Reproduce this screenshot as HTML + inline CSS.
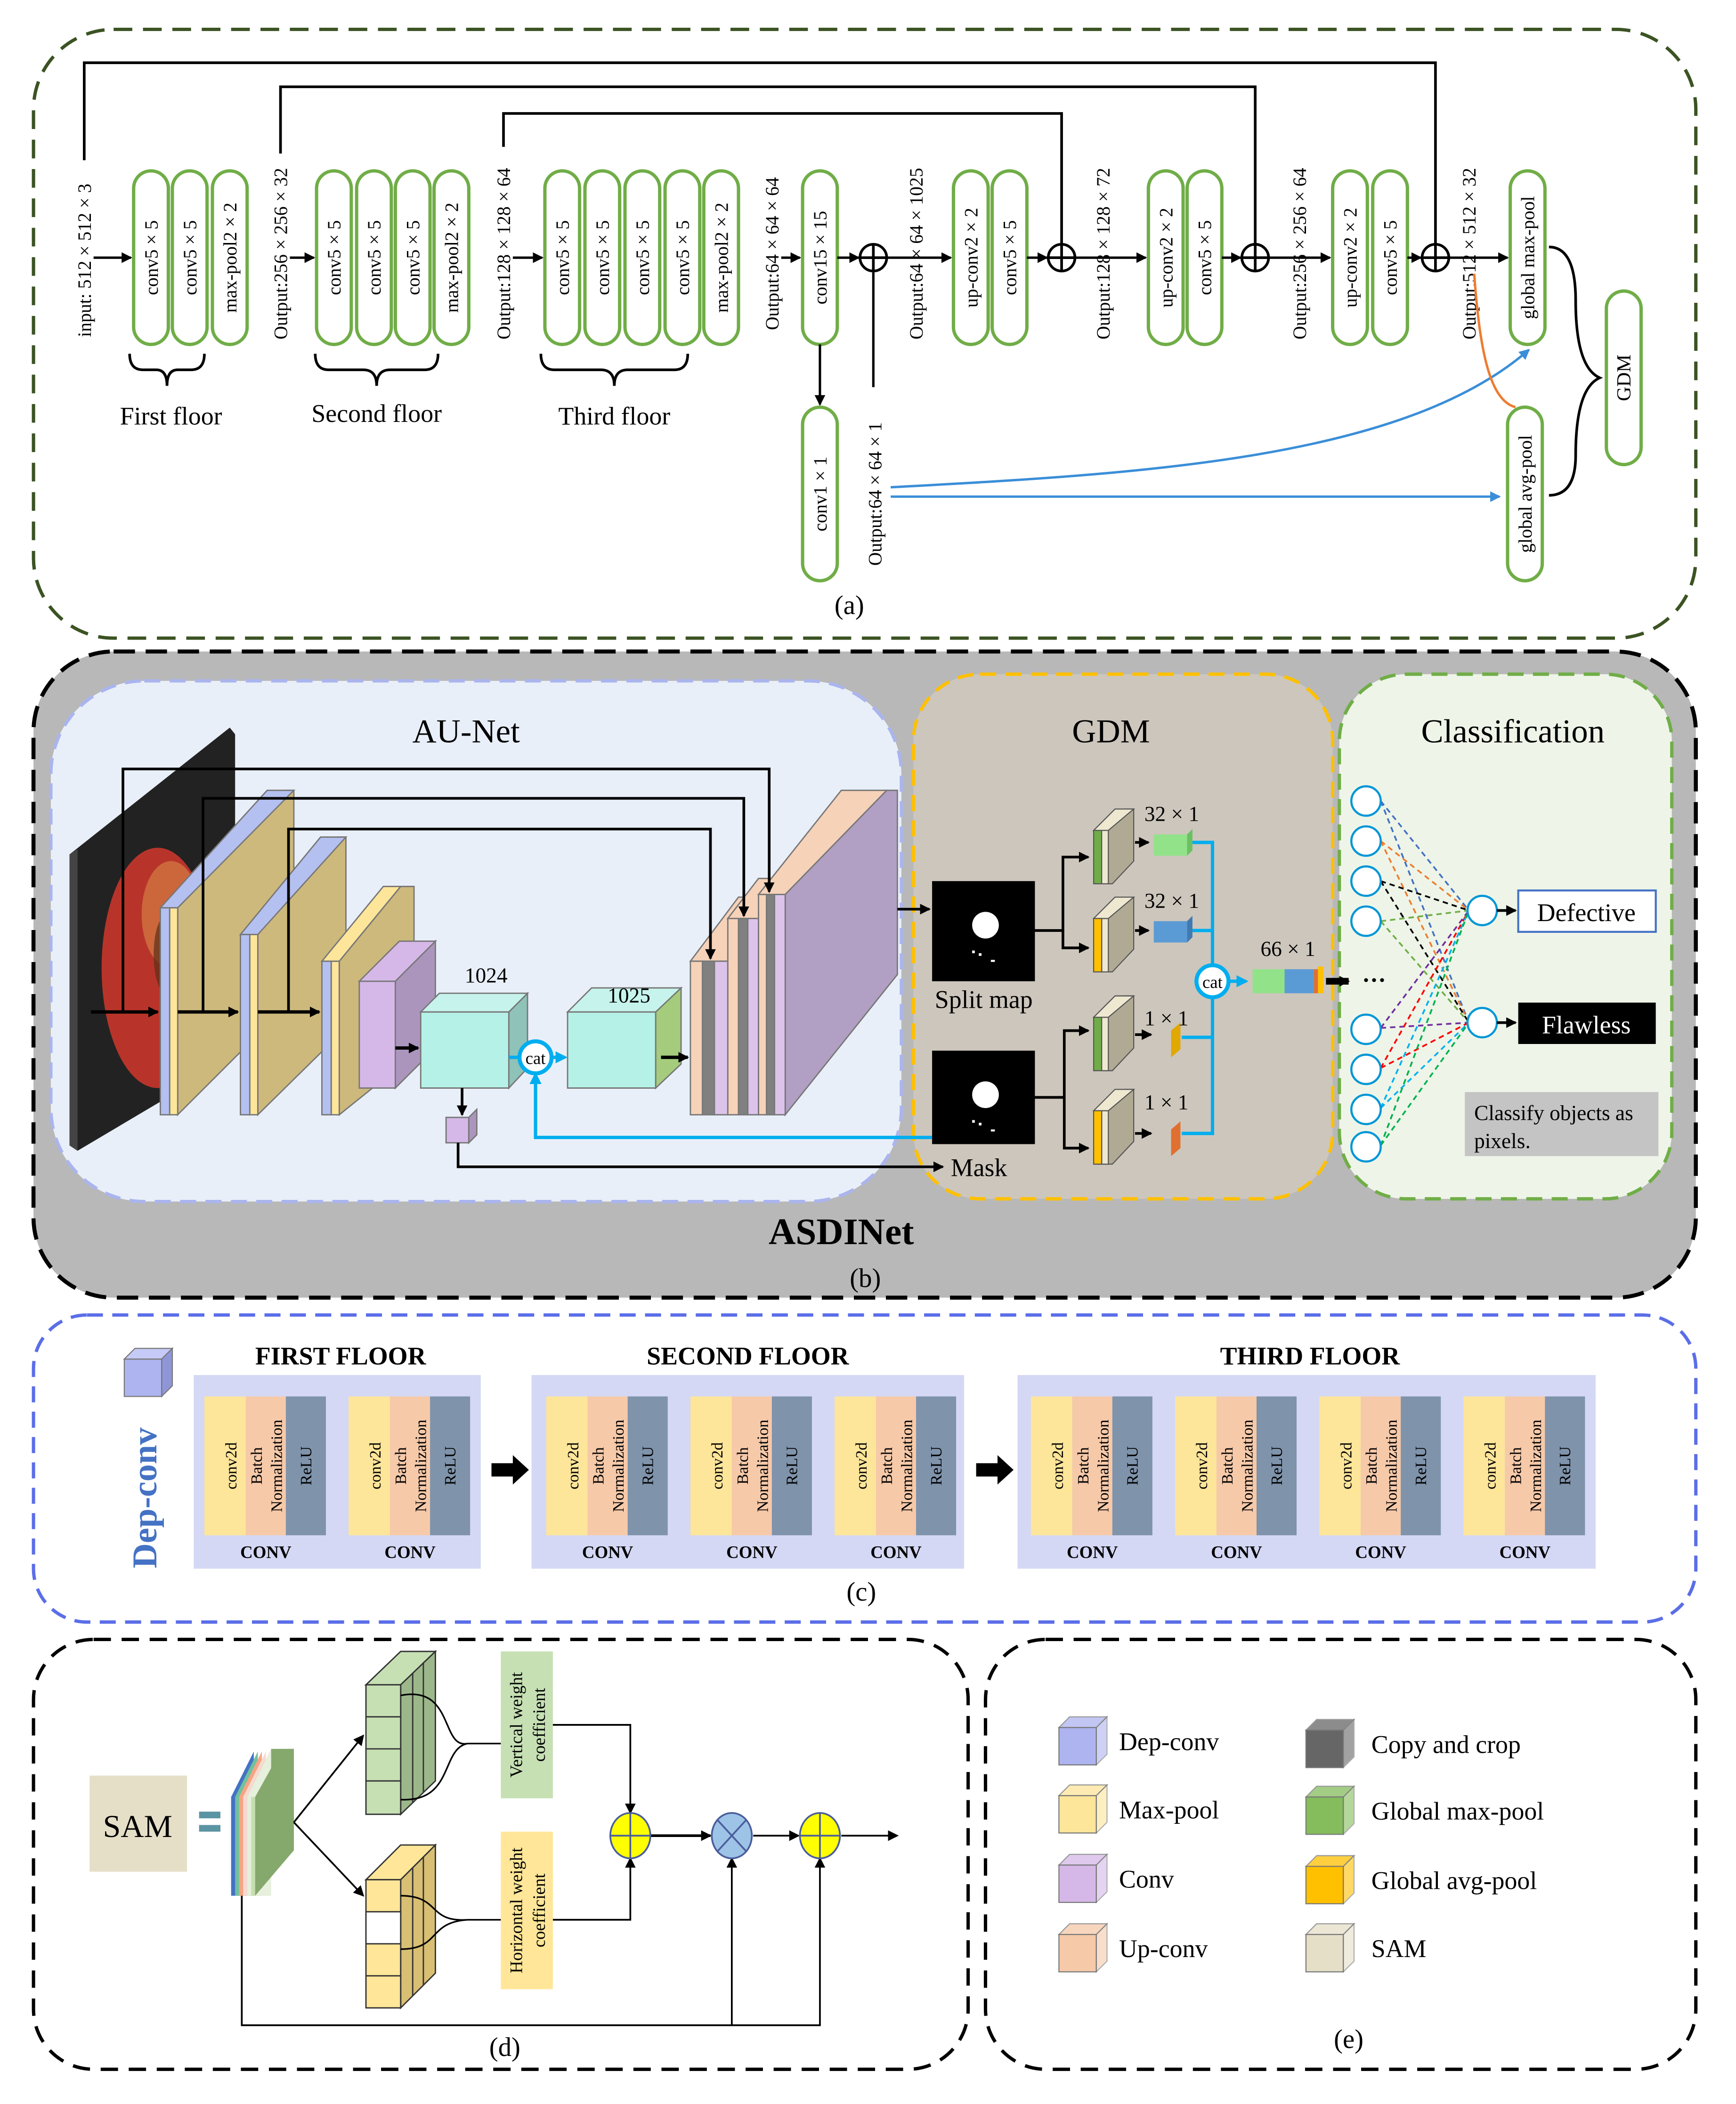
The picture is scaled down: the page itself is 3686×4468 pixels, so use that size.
<!DOCTYPE html>
<html><head><meta charset="utf-8"><style>
html,body{margin:0;padding:0;background:#fff}
svg{display:block}
text{font-family:"Liberation Serif",serif}
</style></head><body>
<svg width="3686" height="4468" viewBox="0 0 1300 1576" xmlns="http://www.w3.org/2000/svg">
<defs>
<marker id="ah" markerWidth="8" markerHeight="8" refX="7" refY="4" orient="auto" markerUnits="userSpaceOnUse"><path d="M0,0 L8,4 L0,8 z" fill="#000"/></marker>
<marker id="ab" markerWidth="8" markerHeight="8" refX="7" refY="4" orient="auto" markerUnits="userSpaceOnUse"><path d="M0,0 L8,4 L0,8 z" fill="#3a8ed8"/></marker>
<marker id="ac" markerWidth="9" markerHeight="9" refX="7" refY="4.5" orient="auto" markerUnits="userSpaceOnUse"><path d="M0,0 L9,4.5 L0,9 z" fill="#00aeef"/></marker>
<g id="pill"><rect x="0" y="0" width="26" height="130" rx="13" fill="#fff" stroke="#70ad47" stroke-width="2.5"/></g>
<g id="oplus"><circle r="10" fill="#fff" stroke="#000" stroke-width="2"/><path d="M-10,0H10M0,-10V10" stroke="#000" stroke-width="2"/></g>
<g id="cb"><rect x="0" y="0" width="28" height="28"/><polygon points="0,0 8,-8 36,-8 28,0" opacity="0.75"/><polygon points="28,0 36,-8 36,20 28,28" opacity="0.6"/></g>
<clipPath id="slabclip"><polygon points="58,640 172,545 176,550 176,792 58,862"/></clipPath>
</defs>

<!-- ============ PANEL A ============ -->
<rect x="25" y="22" width="1245" height="456" rx="60" fill="#fff" stroke="#3b5323" stroke-width="2.5" stroke-dasharray="14,8"/>
<g font-size="14" text-anchor="middle">
<path d="M63,120 V47 H1075 V183" fill="none" stroke="#000" stroke-width="2"/>
<path d="M210,115 V65 H940 V183" fill="none" stroke="#000" stroke-width="2"/>
<path d="M377,110 V85 H795 V183" fill="none" stroke="#000" stroke-width="2"/>
<use href="#pill" x="100" y="128"/><use href="#pill" x="129" y="128"/><use href="#pill" x="159" y="128"/>
<use href="#pill" x="237" y="128"/><use href="#pill" x="267" y="128"/><use href="#pill" x="296" y="128"/><use href="#pill" x="325" y="128"/>
<use href="#pill" x="408" y="128"/><use href="#pill" x="438" y="128"/><use href="#pill" x="468" y="128"/><use href="#pill" x="498" y="128"/><use href="#pill" x="527" y="128"/>
<use href="#pill" x="601" y="128"/>
<use href="#pill" x="714" y="128"/><use href="#pill" x="743" y="128"/>
<use href="#pill" x="860" y="128"/><use href="#pill" x="889" y="128"/>
<use href="#pill" x="998" y="128"/><use href="#pill" x="1028" y="128"/>
<use href="#pill" x="1131" y="128"/>
<use href="#pill" x="1129" y="305"/>
<use href="#pill" x="601" y="305"/>
<use href="#pill" x="1203" y="218"/>
<g transform="rotate(-90)">
<text x="-193" y="118">conv5 × 5</text><text x="-193" y="147">conv5 × 5</text><text x="-193" y="177">max-pool2 × 2</text>
<text x="-193" y="255">conv5 × 5</text><text x="-193" y="285">conv5 × 5</text><text x="-193" y="314">conv5 × 5</text><text x="-193" y="343">max-pool2 × 2</text>
<text x="-193" y="426">conv5 × 5</text><text x="-193" y="456">conv5 × 5</text><text x="-193" y="486">conv5 × 5</text><text x="-193" y="516">conv5 × 5</text><text x="-193" y="545">max-pool2 × 2</text>
<text x="-193" y="619">conv15 × 15</text>
<text x="-193" y="732">up-conv2 × 2</text><text x="-193" y="761">conv5 × 5</text>
<text x="-193" y="878">up-conv2 × 2</text><text x="-193" y="907">conv5 × 5</text>
<text x="-193" y="1016">up-conv2 × 2</text><text x="-193" y="1046">conv5 × 5</text>
<text x="-193" y="1149">global max-pool</text>
<text x="-370" y="1147">global avg-pool</text>
<text x="-370" y="619">conv1 × 1</text>
<text x="-283" y="1221" font-size="15">GDM</text>
<text x="-195" y="68">input: 512 × 512 × 3</text>
<text x="-190" y="215">Output:256 × 256 × 32</text>
<text x="-190" y="382">Output:128 × 128 × 64</text>
<text x="-190" y="583">Output:64 × 64 × 64</text>
<text x="-190" y="691">Output:64 × 64 × 1025</text>
<text x="-190" y="831">Output:128 × 128 × 72</text>
<text x="-190" y="978">Output:256 × 256 × 64</text>
<text x="-190" y="1105">Output:512 × 512 × 32</text>
<text x="-370" y="660">Output:64 × 64 × 1</text>
</g>
<g stroke="#000" stroke-width="1.8" marker-end="url(#ah)">
<line x1="70" y1="193" x2="98" y2="193"/><line x1="217" y1="193" x2="235" y2="193"/>
<line x1="384" y1="193" x2="406" y2="193"/><line x1="585" y1="193" x2="599" y2="193"/>
<line x1="627" y1="193" x2="643" y2="193"/><line x1="664" y1="193" x2="712" y2="193"/>
<line x1="769" y1="193" x2="784" y2="193"/><line x1="805" y1="193" x2="858" y2="193"/>
<line x1="915" y1="193" x2="929" y2="193"/><line x1="950" y1="193" x2="996" y2="193"/>
<line x1="1054" y1="193" x2="1064" y2="193"/><line x1="1085" y1="193" x2="1129" y2="193"/>
<line x1="614" y1="258" x2="614" y2="303"/>
</g>
<line x1="654" y1="290" x2="654" y2="204" stroke="#000" stroke-width="1.8"/>
<use href="#oplus" x="654" y="193"/><use href="#oplus" x="795" y="193"/><use href="#oplus" x="940" y="193"/><use href="#oplus" x="1075" y="193"/>
<g fill="none" stroke="#000" stroke-width="2">
<path d="M97,265 q0,12 10,12 h10 q8,0 8,12 q0,-12 8,-12 h10 q10,0 10,-12"/>
<path d="M236,265 q0,12 10,12 h26 q10,0 10,12 q0,-12 10,-12 h26 q10,0 10,-12"/>
<path d="M405,265 q0,12 10,12 h35 q10,0 10,12 q0,-12 10,-12 h35 q10,0 10,-12"/>
<path d="M1160,185 q20,0 20,40 q0,50 18,58 q-18,8 -18,58 q0,30 -20,30"/>
</g>
<text x="128" y="318" font-size="19">First floor</text>
<text x="282" y="316" font-size="19">Second floor</text>
<text x="460" y="318" font-size="19">Third floor</text>
<path d="M667,365 C850,355 1050,345 1145,262" fill="none" stroke="#3a8ed8" stroke-width="1.8" marker-end="url(#ab)"/>
<line x1="667" y1="372" x2="1123" y2="372" stroke="#3a8ed8" stroke-width="1.8" marker-end="url(#ab)"/>
<path d="M1104,205 C1108,260 1115,300 1135,305" fill="none" stroke="#ed7d31" stroke-width="1.8"/>
<text x="636" y="460" font-size="20">(a)</text>
</g>

<!-- ============ PANEL B ============ -->
<rect x="25" y="488" width="1245" height="484" rx="60" fill="#b8b8b8" stroke="#000" stroke-width="3" stroke-dasharray="16,8"/>
<rect x="38" y="510" width="637" height="390" rx="70" fill="#e9eff9" stroke="#aab5ee" stroke-width="2.5" stroke-dasharray="12,7"/>
<rect x="684" y="505" width="314" height="393" rx="50" fill="#cdc6bc" stroke="#ffc000" stroke-width="2.5" stroke-dasharray="12,7"/>
<rect x="1003" y="505" width="249" height="393" rx="50" fill="#eef5e8" stroke="#70ad47" stroke-width="2.5" stroke-dasharray="12,7"/>
<text x="349" y="556" font-size="25" text-anchor="middle">AU-Net</text>
<text x="832" y="556" font-size="25" text-anchor="middle">GDM</text>
<text x="1133" y="556" font-size="25" text-anchor="middle">Classification</text>
<text x="630" y="932" font-size="28" font-weight="bold" text-anchor="middle">ASDINet</text>
<text x="648" y="964" font-size="20" text-anchor="middle">(b)</text>
<!-- AU-Net -->
<polygon points="52,640 172,545 176,550 176,792 58,862 52,858" fill="#222"/>
<polygon points="52,640 58,636 58,862 52,858" fill="#444"/>
<g clip-path="url(#slabclip)">
<ellipse cx="118" cy="725" rx="42" ry="90" fill="#b8342a"/>
<ellipse cx="128" cy="685" rx="22" ry="40" fill="#d98a4a" opacity="0.6"/>
<ellipse cx="125" cy="715" rx="10" ry="30" fill="#5a3018" opacity="0.7"/>
</g>
<g stroke="#777" stroke-width="1">
<polygon points="133,680 213,592 220,592 220,748 133,835" fill="#cdb97c"/>
<polygon points="120,680 200,592 220,592 133,680" fill="#b4c0f0"/>
<rect x="120" y="680" width="7" height="155" fill="#b4c0f0"/><rect x="127" y="680" width="6" height="155" fill="#fde59a"/>
<polygon points="193,700 253,627 259,627 259,770 193,835" fill="#cdb97c"/>
<polygon points="180,700 240,627 259,627 193,700" fill="#b4c0f0"/>
<rect x="180" y="700" width="7" height="135" fill="#b4c0f0"/><rect x="187" y="700" width="6" height="135" fill="#fde59a"/>
<polygon points="254,720 300,664 310,664 310,790 254,835" fill="#cdb97c"/>
<rect x="241" y="720" width="7" height="115" fill="#b4c0f0"/><rect x="248" y="720" width="6" height="115" fill="#fde59a"/>
<polygon points="241,720 287,664 300,664 254,720" fill="#fde59a"/>
<rect x="269" y="735" width="27" height="80" fill="#d5b8e8"/>
<polygon points="296,735 326,705 326,785 296,815" fill="#ab95bd"/>
<polygon points="269,735 299,705 326,705 296,735" fill="#d5b8e8"/>
<rect x="315" y="758" width="66" height="57" fill="#b6f1e8"/>
<polygon points="381,758 395,744 395,800 381,815" fill="#8fc2b8"/>
<polygon points="315,758 329,744 395,744 381,758" fill="#c6f4ed"/>
<rect x="425" y="758" width="66" height="57" fill="#b6f1e8"/>
<polygon points="491,758 510,740 510,797 491,815" fill="#a4cc7c"/>
<polygon points="425,758 443,740 510,740 491,758" fill="#c6f4ed"/>
<polygon points="517,720 553,672 580,672 545,720" fill="#f6d2b9"/>
<polygon points="545,688 568,658 590,658 568,688" fill="#f6d2b9"/>
<polygon points="568,670 630,592 664,592 588,670" fill="#f6d2b9"/>
<polygon points="588,670 664,592 672,592 672,730 588,835" fill="#b29fc4"/>
<rect x="517" y="720" width="9" height="115" fill="#f6d2b9"/><rect x="526" y="720" width="9" height="115" fill="#808080"/><rect x="535" y="720" width="10" height="115" fill="#dcc3ea"/>
<rect x="545" y="688" width="8" height="147" fill="#f6d2b9"/><rect x="553" y="688" width="7" height="147" fill="#808080"/><rect x="560" y="688" width="8" height="147" fill="#dcc3ea"/>
<rect x="568" y="670" width="6" height="165" fill="#f6d2b9"/><rect x="574" y="670" width="6" height="165" fill="#808080"/><rect x="580" y="670" width="8" height="165" fill="#dcc3ea"/>
<rect x="334" y="837" width="17" height="19" fill="#d5b8e8"/>
<polygon points="351,837 357,831 357,850 351,856" fill="#ab95bd"/>
</g>
<g fill="none" stroke="#000" stroke-width="2">
<path d="M92,758 V576 H576 V668" marker-end="url(#ah)"/>
<path d="M152,758 V598 H557 V686" marker-end="url(#ah)"/>
<path d="M216,758 V621 H532 V718" marker-end="url(#ah)"/>
<line x1="68" y1="758" x2="118" y2="758" stroke-width="2.5" marker-end="url(#ah)"/>
<line x1="133" y1="758" x2="178" y2="758" stroke-width="2.5" marker-end="url(#ah)"/>
<line x1="193" y1="758" x2="239" y2="758" stroke-width="2.5" marker-end="url(#ah)"/>
<line x1="296" y1="785" x2="313" y2="785" stroke-width="2.5" marker-end="url(#ah)"/>
<line x1="495" y1="792" x2="515" y2="792" stroke-width="2.5" marker-end="url(#ah)"/>
<line x1="346" y1="815" x2="346" y2="835" marker-end="url(#ah)"/>
<path d="M343,856 V874 H706" marker-end="url(#ah)"/>
<line x1="672" y1="681" x2="696" y2="681" marker-end="url(#ah)"/>
</g>
<path d="M700,852 H401 V805" fill="none" stroke="#00aeef" stroke-width="2.5" marker-end="url(#ac)"/>
<line x1="381" y1="792" x2="390" y2="792" stroke="#00aeef" stroke-width="2.5"/>
<line x1="413" y1="792" x2="423" y2="792" stroke="#00aeef" stroke-width="2.5" marker-end="url(#ac)"/>
<circle cx="401" cy="792" r="12" fill="#fff" stroke="#00aeef" stroke-width="3"/>
<text x="401" y="797" font-size="13" text-anchor="middle">cat</text>
<text x="364" y="736" font-size="16" text-anchor="middle">1024</text>
<text x="471" y="751" font-size="16" text-anchor="middle">1025</text>
<!-- GDM -->
<rect x="698" y="660" width="77" height="75" fill="#000"/><circle cx="738" cy="693" r="10" fill="#fff"/>
<rect x="698" y="787" width="77" height="70" fill="#000"/><circle cx="738" cy="820" r="10" fill="#fff"/>
<g fill="#fff"><rect x="728" y="712" width="2" height="2"/><rect x="733" y="714" width="2" height="2"/><rect x="742" y="719" width="3" height="1.5"/>
<rect x="728" y="839" width="2" height="2"/><rect x="733" y="841" width="2" height="2"/><rect x="742" y="846" width="3" height="1.5"/></g>
<text x="700" y="755" font-size="19">Split map</text>
<text x="712" y="881" font-size="19">Mask</text>
<g fill="none" stroke="#000" stroke-width="2">
<path d="M775,697 H796 V642 H815" marker-end="url(#ah)"/><path d="M796,697 V710 H815" marker-end="url(#ah)"/>
<path d="M775,822 H797 V772 H815" marker-end="url(#ah)"/><path d="M797,822 V860 H815" marker-end="url(#ah)"/>
<line x1="850" y1="631" x2="860" y2="631" marker-end="url(#ah)"/><line x1="850" y1="697" x2="860" y2="697" marker-end="url(#ah)"/>
<line x1="850" y1="775" x2="862" y2="775" marker-end="url(#ah)"/><line x1="850" y1="849" x2="862" y2="849" marker-end="url(#ah)"/>
</g>
<g stroke="#555" stroke-width="0.8">
<g id="gs"><polygon points="826,622 842,606 849,606 849,645 833,662 826,662" fill="#b0aa94"/><rect x="819" y="622" width="6" height="40" fill="#70ad47"/><rect x="825" y="622" width="5" height="40" fill="#eee8d0"/><polygon points="819,622 835,606 849,606 830,622" fill="#eee8d0"/></g>
<use href="#gs" y="66"/>
<use href="#gs" y="140"/>
<use href="#gs" y="210"/>
<rect x="819" y="688" width="6" height="40" fill="#ffc000"/>
<rect x="819" y="832" width="6" height="40" fill="#ffc000"/>
</g>
<rect x="864" y="625" width="25" height="16" fill="#92e28a"/><polygon points="889,625 893,621 893,637 889,641" fill="#6cc064"/>
<rect x="864" y="690" width="25" height="16" fill="#5b9bd5"/><polygon points="889,690 893,686 893,702 889,706" fill="#417ab0"/>
<polygon points="877,772 884,766 884,786 877,792" fill="#e0a800"/>
<polygon points="877,846 884,840 884,860 877,866" fill="#e07030"/>
<g font-size="16"><text x="857" y="615">32 × 1</text><text x="857" y="680">32 × 1</text><text x="857" y="768">1 × 1</text><text x="857" y="831">1 × 1</text><text x="944" y="716">66 × 1</text></g>
<path d="M893,631 H908 V849 H885 M893,697 H908 M885,777 H908" fill="none" stroke="#00aeef" stroke-width="2.5"/>
<line x1="920" y1="735" x2="933" y2="735" stroke="#00aeef" stroke-width="2.5" marker-end="url(#ac)"/>
<circle cx="908" cy="735" r="12" fill="#fff" stroke="#00aeef" stroke-width="3"/>
<text x="908" y="740" font-size="13" text-anchor="middle">cat</text>
<rect x="938" y="726" width="24" height="18" fill="#92e28a"/><rect x="962" y="726" width="22" height="18" fill="#5b9bd5"/><rect x="984" y="726" width="3" height="18" fill="#e07030"/><rect x="987" y="724" width="4" height="20" fill="#ffc000"/>
<line x1="993" y1="735" x2="1010" y2="735" stroke="#000" stroke-width="5" marker-end="url(#ah)"/>
<text x="1020" y="740" font-size="18" font-weight="bold">···</text>
<!-- Classification -->
<g stroke-width="1.3" stroke-dasharray="4,3" fill="none">
<path d="M1034,600 L1100,682 M1034,600 L1100,766" stroke="#4472c4"/>
<path d="M1034,630 L1100,682 M1034,630 L1100,766" stroke="#ed7d31"/>
<path d="M1034,660 L1100,682 M1034,660 L1100,766" stroke="#000"/>
<path d="M1034,690 L1100,682 M1034,690 L1100,766" stroke="#70ad47"/>
<path d="M1034,770 L1100,682 M1034,770 L1100,766" stroke="#7030a0"/>
<path d="M1034,800 L1100,682 M1034,800 L1100,766" stroke="#ff0000"/>
<path d="M1034,830 L1100,682 M1034,830 L1100,766" stroke="#00b0f0"/>
<path d="M1034,858 L1100,682 M1034,858 L1100,766" stroke="#00b050"/>
</g>
<g fill="#fff" stroke="#0096d6" stroke-width="1.6">
<circle cx="1023" cy="600" r="11"/><circle cx="1023" cy="630" r="11"/><circle cx="1023" cy="660" r="11"/><circle cx="1023" cy="690" r="11"/>
<circle cx="1023" cy="771" r="11"/><circle cx="1023" cy="801" r="11"/><circle cx="1023" cy="831" r="11"/><circle cx="1023" cy="859" r="11"/>
<circle cx="1110" cy="682" r="11"/><circle cx="1110" cy="766" r="11"/>
</g>
<line x1="1121" y1="682" x2="1135" y2="682" stroke="#000" stroke-width="2" marker-end="url(#ah)"/>
<line x1="1121" y1="766" x2="1135" y2="766" stroke="#000" stroke-width="2" marker-end="url(#ah)"/>
<rect x="1137" y="667" width="103" height="31" fill="#fff" stroke="#4472c4" stroke-width="1.5"/>
<text x="1188" y="690" font-size="19" text-anchor="middle">Defective</text>
<rect x="1137" y="751" width="103" height="31" fill="#000"/>
<text x="1188" y="774" font-size="19" text-anchor="middle" fill="#fff">Flawless</text>
<rect x="1097" y="818" width="145" height="48" fill="#c4c4c4"/>
<text x="1104" y="839" font-size="16">Classify objects as</text><text x="1104" y="860" font-size="16">pixels.</text>

<!-- ============ PANEL C ============ -->
<rect x="25" y="985" width="1245" height="230" rx="40" fill="#fff" stroke="#5b6ee8" stroke-width="2.5" stroke-dasharray="12,7"/>
<rect x="93" y="1018" width="28" height="28" fill="#aeb4f0" stroke="#777" stroke-width="0.8"/>
<polygon points="93,1018 101,1010 129,1010 121,1018" fill="#c5caf6" stroke="#777" stroke-width="0.8"/>
<polygon points="121,1018 129,1010 129,1038 121,1046" fill="#8f96d8" stroke="#777" stroke-width="0.8"/>
<text transform="translate(117,1122) rotate(-90)" font-size="26" font-weight="bold" fill="#4472c4" text-anchor="middle">Dep-conv</text>
<rect x="145" y="1030" width="215" height="145" fill="#d4d8f5"/>
<rect x="398" y="1030" width="324" height="145" fill="#d4d8f5"/>
<rect x="762" y="1030" width="433" height="145" fill="#d4d8f5"/>
<g font-size="19" font-weight="bold" text-anchor="middle">
<text x="255" y="1022">FIRST FLOOR</text><text x="560" y="1022">SECOND FLOOR</text><text x="981" y="1022">THIRD FLOOR</text></g>
<g id="cu">
<rect x="153" y="1046" width="31" height="104" fill="#fde59a"/><rect x="184" y="1046" width="30" height="104" fill="#f6c9a9"/><rect x="214" y="1046" width="30" height="104" fill="#7f93ab"/>
<g transform="rotate(-90)" font-size="12" text-anchor="middle"><text x="-1098" y="177">conv2d</text><text x="-1098" y="196">Batch</text><text x="-1098" y="211">Normalization</text><text x="-1098" y="233">ReLU</text></g>
<text x="199" y="1167" font-size="13" font-weight="bold" text-anchor="middle">CONV</text>
</g>
<use href="#cu" x="108"/>
<use href="#cu" x="256"/><use href="#cu" x="364"/><use href="#cu" x="472"/>
<use href="#cu" x="619"/><use href="#cu" x="727"/><use href="#cu" x="835"/><use href="#cu" x="943"/>
<polygon points="368,1096 384,1096 384,1090 396,1101 384,1112 384,1106 368,1106" fill="#000"/>
<polygon points="731,1096 747,1096 747,1090 759,1101 747,1112 747,1106 731,1106" fill="#000"/>
<text x="645" y="1199" font-size="20" text-anchor="middle">(c)</text>

<!-- ============ PANEL D ============ -->
<rect x="25" y="1228" width="700" height="322" rx="45" fill="#fff" stroke="#000" stroke-width="2.5" stroke-dasharray="13,8"/>
<rect x="67" y="1330" width="73" height="72" fill="#e6dfc8"/>
<text x="103" y="1376" font-size="24" text-anchor="middle">SAM</text>
<rect x="149" y="1357" width="16" height="5" fill="#5b94a3"/><rect x="149" y="1367" width="16" height="5" fill="#5b94a3"/>
<polygon points="173,1346 190,1312 190,1420 173,1420" fill="#4472c4"/>
<polygon points="176,1346 193,1312 193,1420 176,1420" fill="#70c0a0"/>
<polygon points="179,1346 196,1312 196,1420 179,1420" fill="#f4a582"/>
<polygon points="182,1346 199,1312 199,1420 182,1420" fill="#f8d8d0"/>
<polygon points="185,1346 203,1310 220,1310 220,1386 185,1420" fill="#85a86c"/>
<polygon points="185,1346 203,1310 203,1420 185,1420" fill="#e6f0dc"/>
<rect x="188" y="1346" width="3" height="74" fill="#c6dfb0"/>
<polygon points="191,1346 211,1310 220,1310 220,1386 191,1420" fill="#85a86c"/>
<g stroke="#000" stroke-width="1.3" fill="none">
<line x1="220" y1="1365" x2="272" y2="1300" marker-end="url(#ah)"/>
<line x1="220" y1="1365" x2="272" y2="1420" marker-end="url(#ah)"/>
</g>
<g stroke="#333" stroke-width="1">
<polygon points="274,1262 300,1237 326,1237 300,1262" fill="#c6e0b4"/>
<polygon points="300,1262 326,1237 326,1334 300,1359" fill="#9cb88a"/>
<rect x="274" y="1262" width="26" height="97" fill="#c6e0b4"/>
<line x1="274" y1="1286" x2="300" y2="1286"/><line x1="274" y1="1310" x2="300" y2="1310"/><line x1="274" y1="1334" x2="300" y2="1334"/>
<line x1="309" y1="1253" x2="309" y2="1350"/><line x1="317" y1="1245" x2="317" y2="1342"/>
</g>
<g stroke="#333" stroke-width="1">
<polygon points="274,1408 300,1382 326,1382 300,1408" fill="#ffe699"/>
<polygon points="300,1408 326,1382 326,1478 300,1504" fill="#d9bf73"/>
<rect x="274" y="1408" width="26" height="96" fill="#ffe699"/>
<rect x="274" y="1432" width="26" height="24" fill="#fff"/>
<line x1="274" y1="1480" x2="300" y2="1480"/><line x1="309" y1="1399" x2="309" y2="1495"/><line x1="317" y1="1391" x2="317" y2="1487"/>
</g>
<path d="M300,1270 C340,1262 330,1310 350,1306 C330,1310 340,1350 300,1348 M350,1306 H375" fill="none" stroke="#000" stroke-width="1.2"/>
<path d="M300,1420 C330,1420 320,1440 350,1438 C320,1440 330,1460 300,1460 M350,1438 H375" fill="none" stroke="#000" stroke-width="1.2"/>
<rect x="375" y="1237" width="39" height="110" fill="#c6e0b4"/>
<rect x="375" y="1372" width="39" height="118" fill="#ffe699"/>
<g transform="rotate(-90)" font-size="13" text-anchor="middle"><text x="-1292" y="391">Vertical weight</text><text x="-1292" y="408">coefficient</text>
<text x="-1431" y="391">Horizontal weight</text><text x="-1431" y="408">coefficient</text></g>
<g fill="none" stroke="#000" stroke-width="1.3">
<path d="M414,1292 H472 V1358" marker-end="url(#ah)"/>
<path d="M414,1438 H472 V1392" marker-end="url(#ah)"/>
<line x1="487" y1="1375" x2="532" y2="1375" stroke-width="2" marker-end="url(#ah)"/>
<line x1="564" y1="1375" x2="598" y2="1375" marker-end="url(#ah)"/>
<line x1="630" y1="1375" x2="672" y2="1375" marker-end="url(#ah)"/>
<path d="M181,1420 V1517 H614 V1392" marker-end="url(#ah)"/>
<path d="M548,1517 V1392" marker-end="url(#ah)"/>
</g>
<g stroke="#4a5d9c" stroke-width="1.3">
<ellipse cx="472" cy="1375" rx="15" ry="17" fill="#ffff00"/><path d="M457,1375H487M472,1358V1392"/>
<ellipse cx="548" cy="1375" rx="15" ry="17" fill="#9dc3e6"/><path d="M537,1363L559,1387M559,1363L537,1387"/>
<ellipse cx="614" cy="1375" rx="15" ry="17" fill="#ffff00"/><path d="M599,1375H629M614,1358V1392"/>
</g>
<text x="378" y="1540" font-size="20" text-anchor="middle">(d)</text>

<!-- ============ PANEL E ============ -->
<rect x="738" y="1228" width="532" height="322" rx="45" fill="#fff" stroke="#000" stroke-width="2.5" stroke-dasharray="13,8"/>
<g stroke="#777" stroke-width="0.8">
<use href="#cb" x="793" y="1294" fill="#aeb4f0"/>
<use href="#cb" x="793" y="1345" fill="#fde59a"/>
<use href="#cb" x="793" y="1397" fill="#d5b8e8"/>
<use href="#cb" x="793" y="1449" fill="#f6c9a9"/>
<use href="#cb" x="978" y="1296" fill="#666"/>
<use href="#cb" x="978" y="1346" fill="#85bd5c"/>
<use href="#cb" x="978" y="1398" fill="#ffc000"/>
<use href="#cb" x="978" y="1449" fill="#e6dfc8"/>
</g>
<g font-size="19">
<text x="838" y="1311">Dep-conv</text><text x="838" y="1362">Max-pool</text><text x="838" y="1414">Conv</text><text x="838" y="1466">Up-conv</text>
<text x="1027" y="1313">Copy and crop</text><text x="1027" y="1363">Global max-pool</text><text x="1027" y="1415">Global avg-pool</text><text x="1027" y="1466">SAM</text>
</g>
<text x="1010" y="1534" font-size="20" text-anchor="middle">(e)</text>
</svg>
</body></html>
